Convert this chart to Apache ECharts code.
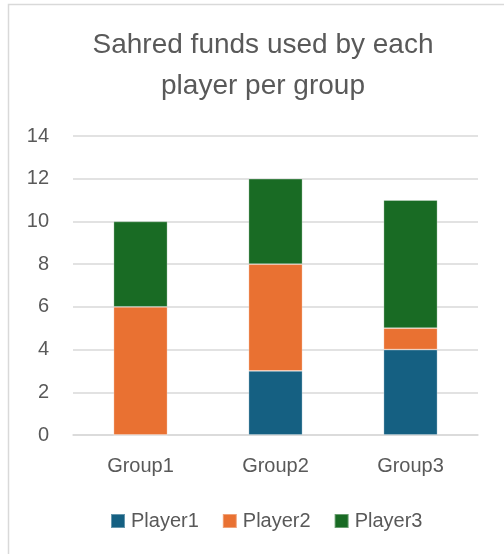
<!DOCTYPE html>
<html>
<head>
<meta charset="utf-8">
<script src="https://cdn.jsdelivr.net/npm/echarts@6/dist/echarts.min.js"></script>
<style>html,body{margin:0;padding:0;background:#fff;}#main{width:504px;height:554px;}</style>
</head>
<body>
<div id="main"></div>
<script>
const titleText = 'Sahred funds used by each\nplayer per group';
const categories = ['Group1', 'Group2', 'Group3'];
const seriesNames = ['Player1', 'Player2', 'Player3'];
const player1 = [0, 3, 4];
const player2 = [6, 5, 1];
const player3 = [4, 4, 6];
const yTicks = [0, 2, 4, 6, 8, 10, 12, 14];

const colors = ['#156082', '#E97132', '#196B24'];
const font = '"Liberation Sans", Arial, sans-serif';
const values = [player1, player2, player3];

const chart = echarts.init(document.getElementById('main'), null, {renderer: 'canvas'});
chart.setOption({
  animation: false,
  color: colors,
  graphic: [{
    type: 'rect', silent: true, z: -1,
    shape: {x: 8.5, y: 4.5, width: 700, height: 700},
    style: {fill: '#fff', stroke: '#d9d9d9', lineWidth: 1.5}
  }],
  title: {
    text: titleText,
    left: 258, textAlign: 'center', top: 20,
    textStyle: {fontFamily: font, fontSize: 28, fontWeight: 'normal', color: '#595959', lineHeight: 41}
  },
  legend: {
    data: seriesNames,
    left: 105, top: 506,
    itemWidth: 14, itemHeight: 14, itemGap: 23,
    icon: 'rect',
    textStyle: {fontFamily: font, fontSize: 20, color: '#595959', padding: [0, 0, 0, 1]}
  },
  grid: {left: 73, right: 26, top: 136, bottom: 119, containLabel: false},
  xAxis: {
    type: 'category', data: categories,
    axisLine: {lineStyle: {color: '#d9d9d9', width: 1.5}},
    axisTick: {show: false},
    axisLabel: {fontFamily: font, fontSize: 20, color: '#595959', margin: 21}
  },
  yAxis: {
    type: 'value', min: yTicks[0], max: yTicks[yTicks.length - 1], interval: 2,
    axisLine: {show: false}, axisTick: {show: false},
    splitLine: {lineStyle: {color: '#d9d9d9', width: 1.5}},
    axisLabel: {fontFamily: font, fontSize: 20, color: '#595959', margin: 24}
  },
  series: seriesNames.map((n, i) => ({
    name: n, type: 'bar', stack: 'total', barWidth: '40%',
    data: values[i],
    itemStyle: {color: colors[i], borderColor: 'rgba(255,255,255,0.35)', borderWidth: 0.8}
  }))
});
</script>
</body>
</html>
